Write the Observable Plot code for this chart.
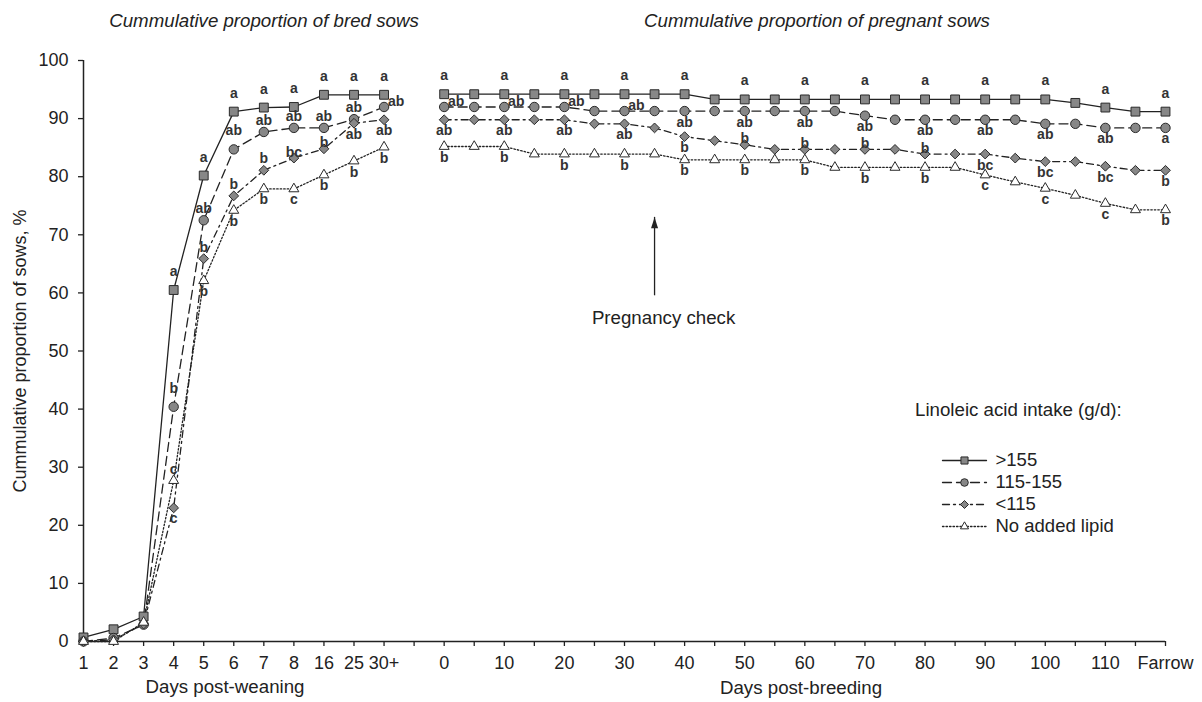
<!DOCTYPE html>
<html><head><meta charset="utf-8">
<script src="https://cdn.jsdelivr.net/npm/d3@7"></script>
<script src="https://cdn.jsdelivr.net/npm/@observablehq/plot@0.6"></script>
<style>
body{margin:0;background:#fff;}
#wrap{position:relative;width:1202px;height:702px;font-family:"Liberation Sans",Arial,sans-serif;color:#222;}
.lab{position:absolute;font-size:18.7px;line-height:18px;white-space:nowrap;color:#222;}
.c{transform:translateX(-50%);}
.it{font-style:italic;}
#legend{position:absolute;left:915px;top:432px;}
</style></head><body>
<div id="wrap">
  <div class="lab c it" style="left:264px;top:12px">Cummulative proportion of bred sows</div>
  <div class="lab c it" style="left:817px;top:12px">Cummulative proportion of pregnant sows</div>
  <div class="lab c" style="left:225px;top:678px">Days post-weaning</div>
  <div class="lab c" style="left:801px;top:679px">Days post-breeding</div>
  <div class="lab" style="left:915px;top:401px">Linoleic acid intake (g/d):</div>
</div>
<script>
// ---------- data ----------
const seriesNames = [">155", "115-155", "<115", "No added lipid"];
const leftDays = ["1","2","3","4","5","6","7","8","16","25","30+"];
const rightDays = ["0","5","10","15","20","25","30","35","40","45","50","55","60","65","70","75","80","85","90","95","100","105","110","115","Farrow"];
const rightTickLabels = ["0","10","20","30","40","50","60","70","80","90","100","110","Farrow"];
const yTicks = [0,10,20,30,40,50,60,70,80,90,100];

// values (%), left panel = days post-weaning, right panel = days post-breeding
const gt155Left  = [0.7, 2.1, 4.3, 60.5, 80.2, 91.2, 91.9, 92.0, 94.1, 94.1, 94.1];
const midLeft    = [0.0, 0.6, 2.9, 40.4, 72.5, 84.7, 87.7, 88.4, 88.4, 89.9, 92.0];
const lt115Left  = [0.0, 0.3, 3.0, 23.0, 65.9, 76.7, 81.1, 83.2, 84.8, 89.2, 89.8];
const noneLeft   = [0.0, 0.0, 3.3, 27.7, 62.1, 74.2, 77.9, 77.9, 80.3, 82.7, 85.1];

const gt155Right = [94.2,94.2,94.2,94.2,94.2,94.2,94.2,94.2,94.2,93.3,93.3,93.3,93.3,93.3,93.3,93.3,93.3,93.3,93.3,93.3,93.3,92.7,91.9,91.2,91.2];
const midRight   = [92.0,92.0,92.0,92.0,92.0,91.3,91.3,91.3,91.3,91.3,91.3,91.3,91.3,91.3,90.5,89.8,89.8,89.8,89.8,89.8,89.1,89.1,88.4,88.4,88.4];
const lt115Right = [89.8,89.8,89.8,89.8,89.8,89.1,89.1,88.4,86.9,86.2,85.5,84.7,84.7,84.7,84.7,84.7,83.9,83.9,83.9,83.2,82.6,82.6,81.8,81.1,81.1];
const noneRight  = [85.2,85.2,85.2,83.9,83.9,83.9,83.9,83.9,82.9,82.9,82.9,82.9,82.9,81.6,81.6,81.6,81.6,81.6,80.3,79.1,78.0,76.8,75.4,74.3,74.3];

// significance letters: [letter, placement]
const U = "up", N = "near", T = "tight", D = "down", R = "right";
const sigGt155Left = [null,null,null,["a",U],["a",U],["a",U],["a",U],["a",U],["a",U],["a",U],["a",U]];
const sigMidLeft   = [null,null,null,["b",U],["ab",N],["ab",U],["ab",N],["ab",N],["ab",N],["ab",N],["ab",R]];
const sigLt115Left = [null,null,null,["c",D],["b",N],["b",N],["b",N],["bc",T],["b",T],["ab",D],["ab",D]];
const sigNoneLeft  = [null,null,null,["c",N],["b",D],["b",D],["b",D],["c",D],["b",D],["b",D],["b",D]];

const sigGt155Right = [["a",U],null,["a",U],null,["a",U],null,["a",U],null,["a",U],null,["a",U],null,["a",U],null,["a",U],null,["a",U],null,["a",U],null,["a",U],null,["a",U],null,["a",U]];
const sigMidRight   = [["ab",R],null,["ab",R],null,["ab",R],null,["ab",R],null,["ab",D],null,["ab",D],null,["ab",D],null,["ab",D],null,["ab",D],null,["ab",D],null,["ab",D],null,["ab",D],null,["a",D]];
const sigLt115Right = [["ab",D],null,["ab",D],null,["ab",D],null,["ab",D],null,["b",D],null,["b",T],null,["b",T],null,["b",T],null,["b",T],null,["bc",D],null,["bc",D],null,["bc",D],null,["b",D]];
const sigNoneRight  = [["b",D],null,["b",D],null,["b",D],null,["b",D],null,["b",D],null,["b",D],null,["b",D],null,["b",D],null,["b",D],null,["c",D],null,["c",D],null,["c",D],null,["b",D]];

const pregnancyCheck = [{day: "35", from: 59.5, to: 73.0, labelAt: 54.6, label: "Pregnancy check"}];

// ---------- build ----------
const GAP = leftDays.length + 1; // first right index (one empty category between panels)
const idxLeft = k => k;
const idxRight = k => GAP + k;
const lastIdx = GAP + rightDays.length - 1;

const seriesData = [
  {name: seriesNames[0], L: gt155Left, R: gt155Right, sL: sigGt155Left, sR: sigGt155Right},
  {name: seriesNames[1], L: midLeft,   R: midRight,   sL: sigMidLeft,   sR: sigMidRight},
  {name: seriesNames[2], L: lt115Left, R: lt115Right, sL: sigLt115Left, sR: sigLt115Right},
  {name: seriesNames[3], L: noneLeft,  R: noneRight,  sL: sigNoneLeft,  sR: sigNoneRight}
];

const styles = {
  ">155":           {symbol: "square",   r: 5.0, fill: "#878787", dash: undefined,  lr: 4.0},
  "115-155":        {symbol: "circle",   r: 4.7, fill: "#878787", dash: "9,5",      lr: 3.8},
  "<115":           {symbol: "diamond2", r: 4.4, fill: "#878787", dash: "7,4,2,4",  lr: 3.6},
  "No added lipid": {symbol: "triangle", r: 3.7, fill: "#ffffff", dash: "1.5,2",    lr: 3.0}
};

const rows = [], sigRows = [];
for (const s of seriesData) {
  s.L.forEach((v, k) => rows.push({series: s.name, panel: "L", i: idxLeft(k), v}));
  s.R.forEach((v, k) => rows.push({series: s.name, panel: "R", i: idxRight(k), v}));
  s.sL.forEach((g, k) => { if (g) sigRows.push({i: idxLeft(k), v: s.L[k], text: g[0], side: g[1]}); });
  s.sR.forEach((g, k) => { if (g) sigRows.push({i: idxRight(k), v: s.R[k], text: g[0], side: g[1]}); });
}

const xTicks = d3.range(0, lastIdx + 1);
const xTickFormat = i => {
  if (i < leftDays.length) return leftDays[i];
  if (i < GAP) return "";
  const lab = rightDays[i - GAP];
  return rightTickLabels.includes(lab) ? lab : "";
};

const offsets = {up: [0, -14], near: [0, -7], tight: [0, -1.5], down: [0, 15.5], right: [12, -1]};
const ink = "#222";

// narrow filled arrow head (tip at the anchor point)
const arrowHead = {draw(ctx) { ctx.moveTo(0, 0); ctx.lineTo(-3.5, 11); ctx.lineTo(3.5, 11); ctx.closePath(); }};

const marks = [];
marks.push(Plot.axisY({ticks: yTicks, tickSize: 5, tickPadding: 10, fontSize: 18, strokeWidth: 1.3,
  label: "Cummulative proportion of sows, %", labelAnchor: "center", labelArrow: "none", labelOffset: 70}));
marks.push(Plot.axisX({ticks: xTicks, tickSize: 5, tickPadding: 10, fontSize: 18, strokeWidth: 1.3,
  tickFormat: xTickFormat, label: null}));
marks.push(Plot.ruleX([0], {stroke: ink, strokeWidth: 1.5}));
marks.push(Plot.ruleY([0], {stroke: ink, strokeWidth: 1.5}));

for (const name of seriesNames) {
  const st = styles[name];
  marks.push(Plot.line(rows.filter(d => d.series === name), {
    x: "i", y: "v", z: "panel", stroke: ink, strokeWidth: 1.3, strokeDasharray: st.dash
  }));
}
for (const name of seriesNames) {
  const st = styles[name];
  marks.push(Plot.dot(rows.filter(d => d.series === name), {
    x: "i", y: "v", symbol: st.symbol, r: st.r, fill: st.fill, stroke: "#2a2a2a", strokeWidth: 1
  }));
}
for (const side of Object.keys(offsets)) {
  const [dx, dy] = offsets[side];
  marks.push(Plot.text(sigRows.filter(d => d.side === side), {
    x: "i", y: "v", text: "text", dx, dy, lineAnchor: "bottom", fontWeight: "bold", fontSize: 14, fill: "#333"
  }));
}
// pregnancy check annotation
const pcIdx = d => idxRight(rightDays.indexOf(d.day));
marks.push(Plot.ruleX(pregnancyCheck, {x: pcIdx, y1: "from", y2: "to", stroke: ink, strokeWidth: 1.3}));
marks.push(Plot.dot(pregnancyCheck, {x: pcIdx, y: "to", symbol: arrowHead, fill: ink, stroke: "none"}));
marks.push(Plot.text(pregnancyCheck, {x: pcIdx, y: "labelAt", text: "label", dx: 9, lineAnchor: "bottom", fontSize: 18.7, fill: ink}));

const chart = Plot.plot({
  width: 1202, height: 702,
  marginTop: 60, marginBottom: 61, marginLeft: 83, marginRight: 37,
  style: {fontFamily: "'Liberation Sans', Arial, sans-serif", fontSize: "18px", color: ink, background: "transparent"},
  x: {domain: [0, lastIdx]},
  y: {domain: [0, 100]},
  marks
});
chart.style.position = "absolute";
chart.style.left = "0px";
chart.style.top = "0px";
const wrap = document.getElementById("wrap");
wrap.insertBefore(chart, wrap.firstChild);

// ---------- legend ----------
const legendMarks = [];
for (const name of seriesNames) {
  const st = styles[name];
  legendMarks.push(Plot.line([{x: 0, s: name}, {x: 1, s: name}], {x: "x", y: "s", stroke: ink, strokeWidth: 1.3, strokeDasharray: st.dash}));
  legendMarks.push(Plot.dot([{x: 0.5, s: name}], {x: "x", y: "s", symbol: st.symbol, r: st.lr, fill: st.fill, stroke: "#2a2a2a", strokeWidth: 1}));
}
legendMarks.push(Plot.text(seriesNames.map(s => ({x: 1, s})), {x: "x", y: "s", text: "s", dx: 9, textAnchor: "start", fontSize: 18.5, fill: ink}));
const legend = Plot.plot({
  width: 290, height: 115, margin: 0,
  style: {fontFamily: "'Liberation Sans', Arial, sans-serif", fontSize: "18px", color: ink, background: "transparent"},
  x: {domain: [0, 1], range: [27, 71], axis: null},
  y: {type: "point", domain: seriesNames, range: [16, 105], axis: null},
  marks: legendMarks
});
legend.id = "legend";
wrap.appendChild(legend);
</script>
</body></html>
